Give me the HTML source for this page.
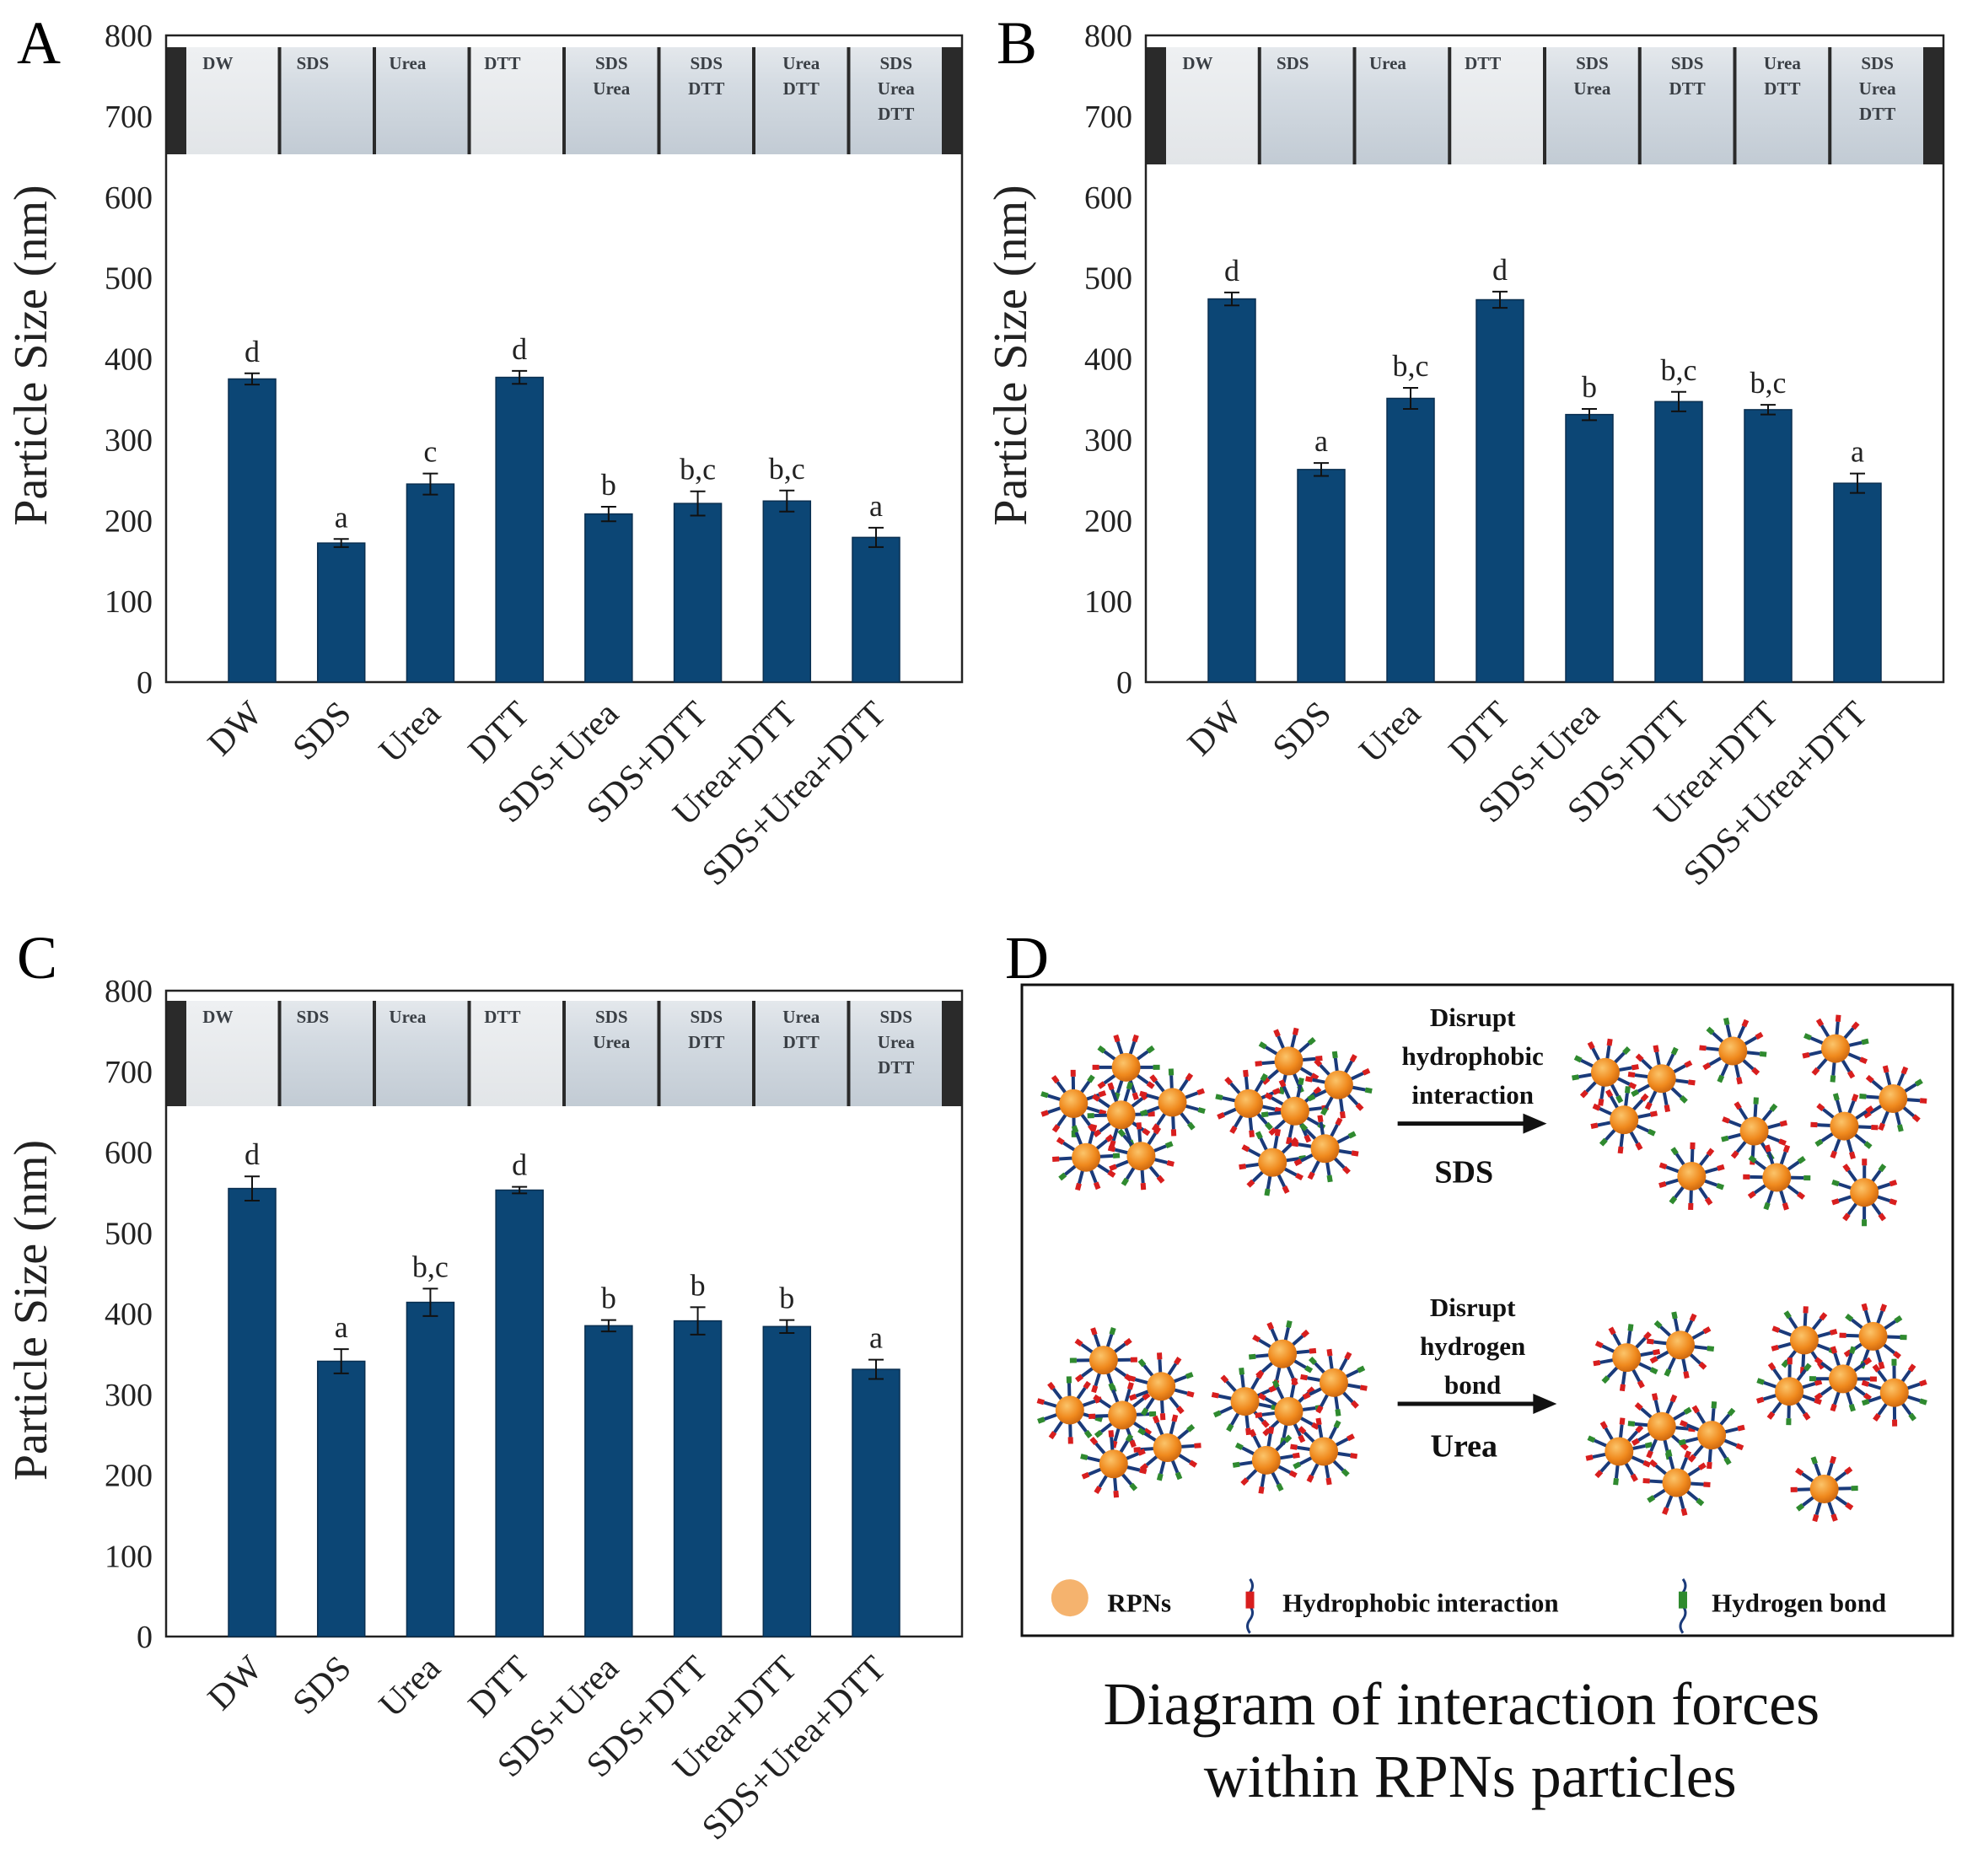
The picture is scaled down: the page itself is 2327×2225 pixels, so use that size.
<!DOCTYPE html>
<html><head><meta charset="utf-8"><style>
html,body{margin:0;padding:0;background:#fff}
svg text{font-family:"Liberation Serif",serif}
</style></head><body>
<svg id="fig" width="2327" height="2220" viewBox="0 0 2327 2220" xmlns="http://www.w3.org/2000/svg">
<defs>
<linearGradient id="vial" x1="0" y1="0" x2="0" y2="1"><stop offset="0" stop-color="#e4e8ec"/><stop offset="0.35" stop-color="#d4dbe2"/><stop offset="1" stop-color="#c2cbd4"/></linearGradient>
<linearGradient id="vialw" x1="0" y1="0" x2="0" y2="1"><stop offset="0" stop-color="#eef0f2"/><stop offset="1" stop-color="#e2e5e8"/></linearGradient>
<radialGradient id="ball" cx="0.4" cy="0.35" r="0.7"><stop offset="0" stop-color="#fbc46a"/><stop offset="0.6" stop-color="#f08a1e"/><stop offset="1" stop-color="#c8620c"/></radialGradient>
</defs>
<g id="panels"></g>
<g id="diagram"></g>
</svg>
<script>
const categories = ["DW","SDS","Urea","DTT","SDS+Urea","SDS+DTT","Urea+DTT","SDS+Urea+DTT"];
const vialLabels = [["DW"],["SDS"],["Urea"],["DTT"],["SDS","Urea"],["SDS","DTT"],["Urea","DTT"],["SDS","Urea","DTT"]];
const yTicks = [0,100,200,300,400,500,600,700,800];
const valuesA = [375,172,245,377,208,221,224,179];
const errorsA = [7,5,13,8,9,15,13,12];
const lettersA = ["d","a","c","d","b","b,c","b,c","a"];
const valuesB = [474,263,351,473,331,347,337,246];
const errorsB = [8,8,13,10,7,12,6,12];
const lettersB = ["d","a","b,c","d","b","b,c","b,c","a"];
const valuesC = [555,341,414,553,385,391,384,331];
const errorsC = [15,15,17,4,7,17,8,12];
const lettersC = ["d","a","b,c","d","b","b","b","a"];

const NS="http://www.w3.org/2000/svg";
function mk(tag,attrs,parent,text){const e=document.createElementNS(NS,tag);for(const k in attrs)e.setAttribute(k,attrs[k]);if(text!==undefined)e.textContent=text;parent.appendChild(e);return e;}

const panelsG=document.getElementById('panels');
const panels=[
 {id:'a',L:'A',left:197,right:1141,top:42,bottom:809,photoTop:56,photoBot:183,vals:valuesA,errs:errorsA,lets:lettersA,lx:20,ly:75},
 {id:'b',L:'B',left:1359,right:2305,top:42,bottom:809,photoTop:56,photoBot:195,vals:valuesB,errs:errorsB,lets:lettersB,lx:1182,ly:75},
 {id:'c',L:'C',left:197,right:1141,top:1175,bottom:1941,photoTop:1187,photoBot:1312,vals:valuesC,errs:errorsC,lets:lettersC,lx:20,ly:1160}
];
panels.forEach(p=>{
 const g=mk('g',{},panelsG);
 
 
 const y=v=>p.bottom-(v/800)*(p.bottom-p.top);
 const step=(p.right-p.left-204)/7;
 const x=i=>p.left+102+i*step;
 const bw=56;
 const lab=mk('text',{x:p.lx,y:p.ly,'font-size':72},g,p.L);
 
 
 const ph=mk('g',{},g);
 
 
 mk('rect',{x:p.left,y:p.photoTop,width:p.right-p.left,height:p.photoBot-p.photoTop,fill:'#2a2a2a'},ph);
 const pl=p.left+22, pw=(p.right-p.left-44)/8;
 for(let i=0;i<8;i++){
  mk('rect',{x:pl+i*pw+2,y:p.photoTop,width:pw-4,height:p.photoBot-p.photoTop,fill:(i==0||i==3)?'url(#vialw)':'url(#vial)'},ph);
  vialLabels[i].forEach((t,j)=>{mk('text',{x:pl+i*pw+(vialLabels[i].length==1?pw*0.35:pw*0.5),y:p.photoTop+26+j*30,'font-size':21,'font-weight':'bold','text-anchor':'middle',fill:'#3a3f45'},ph,t);});
 }
 const fr=mk('rect',{x:p.left,y:p.top,width:p.right-p.left,height:p.bottom-p.top,fill:'none',stroke:'#222','stroke-width':2.5},g);
 
 
 yTicks.forEach(t=>{
  const tl=mk('text',{x:p.left-16,y:y(t)+13,'font-size':38,'text-anchor':'end',fill:'#222'},g,String(t));
  
  
 });
 const yt=mk('text',{transform:`translate(${p.left-142},${(p.top+p.bottom)/2-4}) rotate(-90)`,'font-size':56,'text-anchor':'middle',fill:'#222'},g,'Particle Size (nm)');
 
 
 p.vals.forEach((v,i)=>{
  const b=mk('rect',{x:x(i)-bw/2,y:y(v),width:bw,height:p.bottom-y(v),fill:'#0c4675',stroke:'#0a2f50','stroke-width':1.5},g);
  
  
  const e=p.errs[i];
  const eb=mk('path',{d:`M${x(i)},${y(v+e)}V${y(v-e)}M${x(i)-9},${y(v+e)}H${x(i)+9}M${x(i)-9},${y(v-e)}H${x(i)+9}`,stroke:'#111','stroke-width':2,fill:'none'},g);
  
  
  const lt=mk('text',{x:x(i),y:y(v+e)-14,'font-size':36,'text-anchor':'middle',fill:'#222'},g,p.lets[i]);
  
  
  const xl=mk('text',{transform:`translate(${x(i)+14},${p.bottom+40}) rotate(-45)`,'font-size':42,'text-anchor':'end',fill:'#222'},g,categories[i]);
  
  
 });
});

const D=document.getElementById('diagram');
const s=1.484;
const dl=mk('text',{x:1192,y:1160,'font-size':72},D,'D');


const box=mk('rect',{x:1212,y:1168,width:1104,height:772,fill:'#fff',stroke:'#111','stroke-width':3},D);


const parts=[[900,853],[858,882],[896,891],[937,881],[868,925],[912,924],[1030,848],[998,882],[1035,888],[1070,867],[1017,929],[1059,918],[1283,857],[1328,862],[1298,895],[1385,840],[1467,838],[1513,878],[1402,904],[1474,900],[1352,940],[1420,941],[1490,953],
[882,1087],[855,1127],[897,1131],[928,1108],[933,1157],[890,1170],[1025,1082],[995,1120],[1030,1128],[1066,1105],[1012,1167],[1058,1160],[1300,1085],[1343,1075],[1294,1160],[1328,1140],[1368,1147],[1340,1185],[1442,1071],[1497,1068],[1430,1112],[1473,1102],[1514,1113],[1458,1190]];
const cols=['#d81e1e','#2f8a2f'];
parts.forEach((pt,k)=>{
 const cx=pt[0]*s, cy=pt[1]*s;
 const pg=mk('g',{},D);
 
 
 for(let a=0;a<10;a++){
  const ang=a*Math.PI/5+k*0.3;
  const x1=cx+Math.cos(ang)*14,y1=cy+Math.sin(ang)*14,x2=cx+Math.cos(ang)*32,y2=cy+Math.sin(ang)*32,x3=cx+Math.cos(ang)*40,y3=cy+Math.sin(ang)*40;
  mk('line',{x1:x1,y1:y1,x2:x2,y2:y2,stroke:'#1a3a7a','stroke-width':4},pg);
  mk('line',{x1:x2,y1:y2,x2:x3,y2:y3,stroke:cols[(a+k)%3==0?1:0],'stroke-width':6},pg);
 }
 mk('circle',{cx:cx,cy:cy,r:17,fill:'url(#ball)'},pg);
});
function txt(t,x,y,fs,w,name){const e=mk('text',{x:x*s,y:y*s,'font-size':fs,'font-weight':w||'normal','text-anchor':'middle',fill:'#111'},D,t);return e;}
txt('Disrupt',1177,820,31,'bold','arrow-label');
txt('hydrophobic',1177,851,31,'bold','arrow-label');
txt('interaction',1177,882,31,'bold','arrow-label');
txt('SDS',1170,945,38,'bold','reagent-label');
txt('Disrupt',1177,1052,31,'bold','arrow-label');
txt('hydrogen',1177,1083,31,'bold','arrow-label');
txt('bond',1177,1114,31,'bold','arrow-label');
txt('Urea',1170,1164,38,'bold','reagent-label');
[[1117,1220,898],[1117,1228,1122]].forEach(a=>{
 const ag=mk('g',{},D);
 
 
 mk('line',{x1:a[0]*s,y1:a[2]*s,x2:a[1]*s,y2:a[2]*s,stroke:'#111','stroke-width':5},ag);
 mk('polygon',{points:`${a[1]*s-4},${a[2]*s-12} ${a[1]*s+24},${a[2]*s} ${a[1]*s-4},${a[2]*s+12}`,fill:'#111'},ag);
});
const lg=mk('g',{},D);


mk('circle',{cx:855*s,cy:1277*s,r:22,fill:'#f2a04a',opacity:0.8},lg);
mk('path',{d:`M${999*s},${1262*s} q6,8 0,16 q-6,8 0,16 q6,8 0,16 q-6,8 0,16`,stroke:'#1a3a7a','stroke-width':3,fill:'none'},lg);
mk('rect',{x:999*s-5,y:1272*s,width:10,height:20,fill:'#d81e1e'},lg);
mk('path',{d:`M${1345*s},${1262*s} q6,8 0,16 q-6,8 0,16 q6,8 0,16 q-6,8 0,16`,stroke:'#1a3a7a','stroke-width':3,fill:'none'},lg);
mk('rect',{x:1345*s-5,y:1272*s,width:10,height:20,fill:'#2f8a2f'},lg);
[['RPNs',885],['Hydrophobic interaction',1025],['Hydrogen bond',1368]].forEach(l=>{
 const e=mk('text',{x:l[1]*s,y:1288*s,'font-size':31,'font-weight':'bold',fill:'#111'},lg,l[0]);
 
 
});
txt('Diagram of interaction forces',1168,1378,72,'normal','caption');
txt('within RPNs particles',1175,1436,72,'normal','caption');
</script>
</body></html>
